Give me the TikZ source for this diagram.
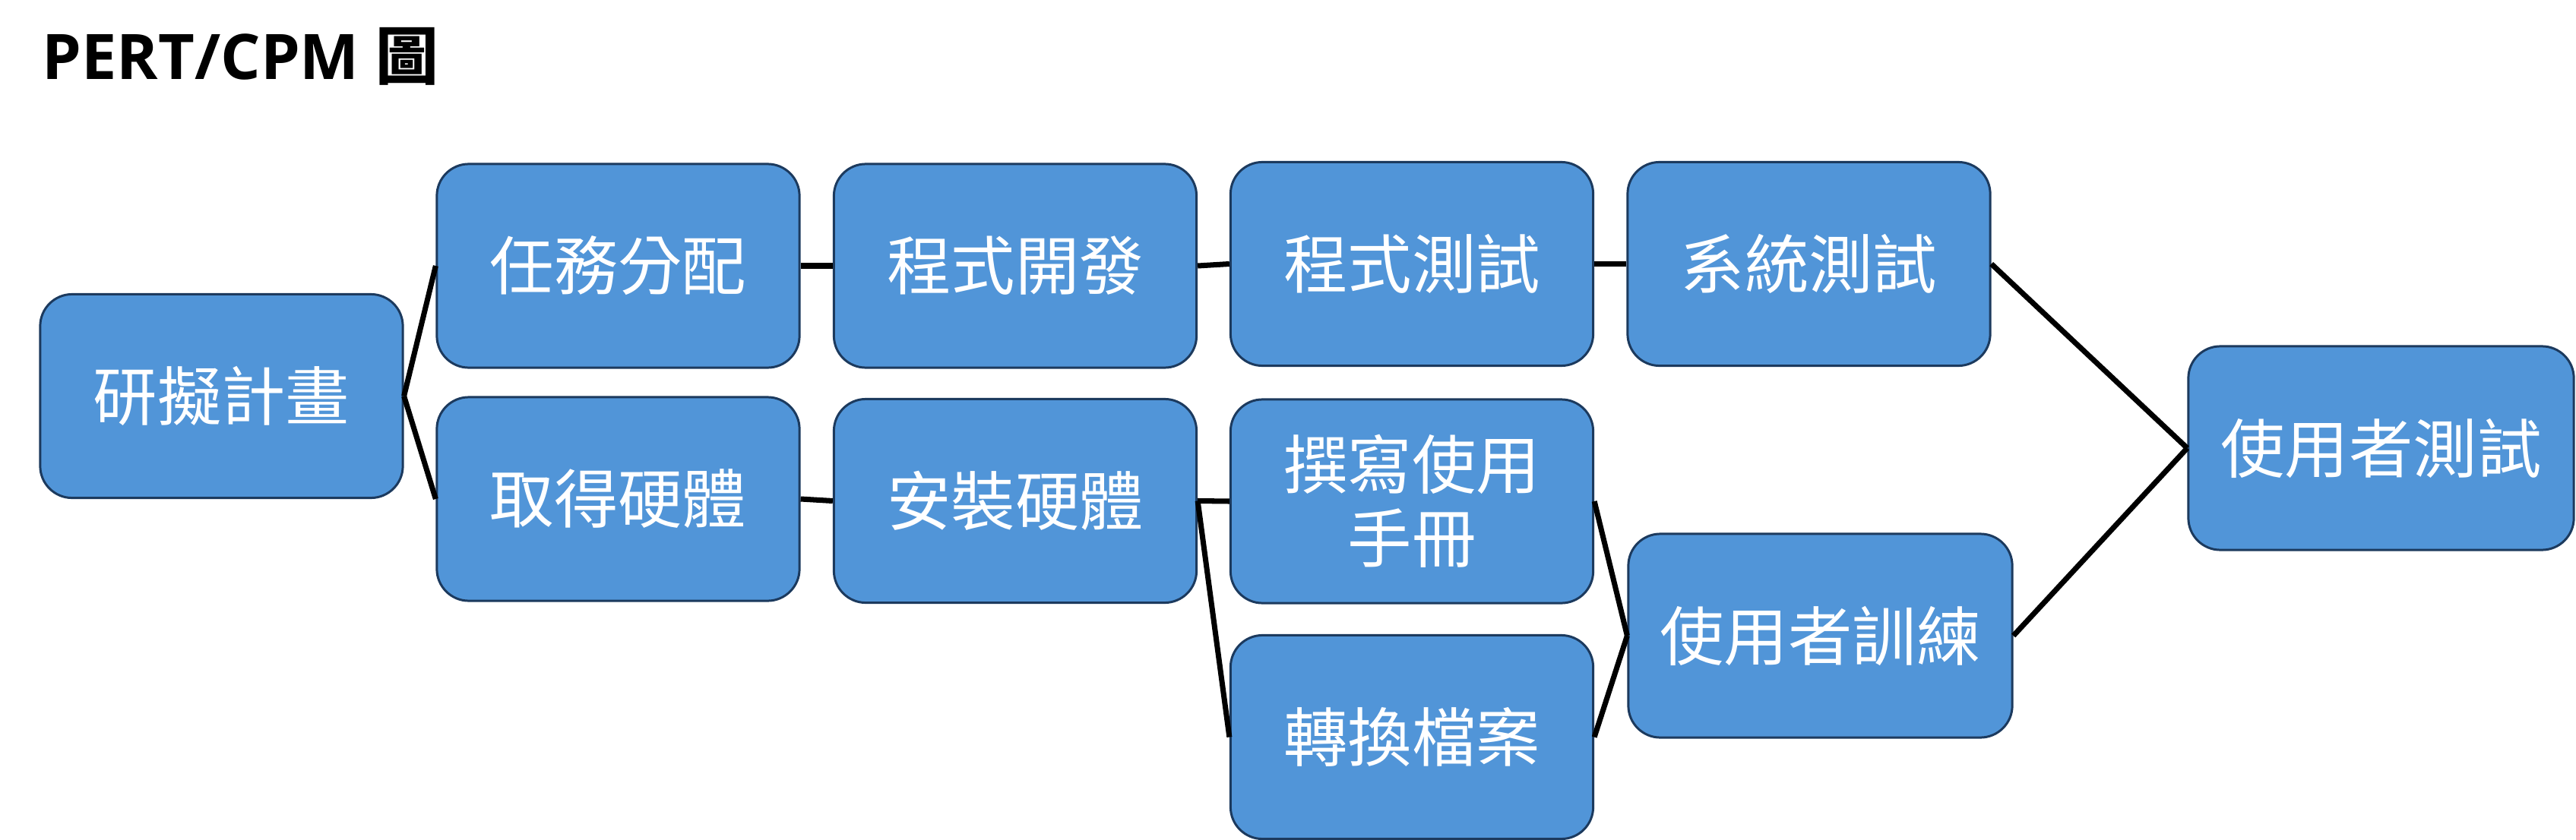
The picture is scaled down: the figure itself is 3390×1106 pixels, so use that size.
\documentclass[tikz,border=0pt]{standalone}
\usepackage{fontspec}
\setmainfont{Open Sans}
\newfontfamily\cjk{Noto Sans CJK TC}
\definecolor{boxfill}{HTML}{5195D8}
\definecolor{boxline}{HTML}{1C3A5E}
\begin{document}
\begin{tikzpicture}[x=0.01cm,y=-0.01cm,
  task/.style={draw=boxline, line width=0.85pt, fill=boxfill, rounded corners=0.42cm,
    minimum width=4.77cm, minimum height=2.68cm, inner sep=0pt, text=white,
    font=\cjk\fontsize{24}{27.6}\selectfont, align=center},
  link/.style={line width=2pt, draw=black}]
\useasboundingbox (0,0) rectangle (3390,1106);
\node[anchor=base west, inner sep=0pt, font=\bfseries\fontsize{23.5}{28}\selectfont] (title) at (55,104) {PERT/CPM {\cjk\bfseries 圖}};
\node[task] (A) at (291.5,521.5) {研擬計畫};
\node[task] (B) at (813.5,350) {任務分配};
\node[task] (C) at (813.5,657) {取得硬體};
\node[task] (D) at (1336,350) {程式開發};
\node[task] (E) at (1336,659.5) {安裝硬體};
\node[task] (F) at (1858,347.5) {程式測試};
\node[task] (G) at (2380.5,347.5) {系統測試};
\node[task] (H) at (1858,660) {撰寫使用\\手冊};
\node[task] (I) at (1858,970.5) {轉換檔案};
\node[task, minimum width=5.05cm] (J) at (2395.5,837) {使用者訓練};
\node[task, minimum width=5.07cm] (K) at (3133.5,590) {使用者測試};
\draw[link] (A.east) -- (B.west);
\draw[link] (A.east) -- (C.west);
\draw[link] (B.east) -- (D.west);
\draw[link] (C.east) -- (E.west);
\draw[link] (D.east) -- (F.west);
\draw[link] (E.east) -- (H.west);
\draw[link] (E.east) -- (I.west);
\draw[link] (F.east) -- (G.west);
\draw[link] (H.east) -- (J.west);
\draw[link] (I.east) -- (J.west);
\draw[link] (G.east) -- (K.west);
\draw[link] (J.east) -- (K.west);
\end{tikzpicture}
\end{document}
